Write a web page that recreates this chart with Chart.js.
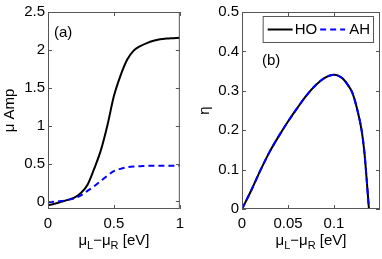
<!DOCTYPE html>
<html>
<head>
<meta charset="UTF-8">
<title>HO / AH</title>
<script src="https://cdn.jsdelivr.net/npm/chart.js@4"></script>
<style>
    body { margin: 0; background: #fff; }
    #wrap { position: relative; width: 382px; height: 259px; }
    canvas { position: absolute; top: 0; }
    #ampChart { left: 0; }
    #etaChart { left: 190px; }
</style>
</head>
<body>
<div id="wrap">
    <canvas id="ampChart" width="190" height="259"></canvas>
    <canvas id="etaChart" width="192" height="259"></canvas>
</div>
<script>
    // panel (a): mu Amp vs bias
    const ampX  = [0, 0.05, 0.1, 0.15, 0.2, 0.25, 0.3, 0.35, 0.4, 0.45, 0.5, 0.55, 0.6, 0.65, 0.7, 0.75, 0.8, 0.85, 0.9, 0.95, 1];
    const ampHO = [-0.05, -0.03, -0.005, 0.02, 0.05, 0.11, 0.22, 0.43, 0.67, 1.0, 1.39, 1.66, 1.87, 1.99, 2.05, 2.09, 2.12, 2.14, 2.15, 2.155, 2.16];
    const ampAH = [-0.01, -0.005, 0.005, 0.02, 0.04, 0.08, 0.14, 0.2, 0.27, 0.34, 0.4, 0.43, 0.45, 0.46, 0.465, 0.47, 0.47, 0.47, 0.47, 0.47, 0.47];
    const ampTicksX = [0, 0.5, 1];
    const ampTicksY = [0, 0.5, 1, 1.5, 2, 2.5];

    // panel (b): efficiency eta vs bias
    const etaX  = [0, 0.01, 0.02, 0.03, 0.04, 0.05, 0.06, 0.07, 0.08, 0.09, 0.1, 0.105, 0.11, 0.115, 0.12, 0.125, 0.13, 0.133, 0.135, 0.137, 0.138];
    const etaHO = [0, 0.047, 0.098, 0.145, 0.185, 0.222, 0.256, 0.288, 0.314, 0.333, 0.341, 0.338, 0.33, 0.315, 0.295, 0.255, 0.2, 0.145, 0.09, 0.03, 0];
    const etaAH = [0, 0.047, 0.098, 0.145, 0.185, 0.222, 0.256, 0.288, 0.314, 0.333, 0.341, 0.338, 0.33, 0.315, 0.295, 0.255, 0.2, 0.145, 0.09, 0.03, 0];
    const etaTicksX = [0, 0.05, 0.1];
    const etaTicksY = [0, 0.1, 0.2, 0.3, 0.4, 0.5];

    const seriesNames = ['HO', 'AH'];
    const FONT = '"Liberation Sans", Arial, sans-serif';
    const AXIS = '#555';

    function pts(xs, ys) {
        return xs.map((x, i) => ({ x: x, y: ys[i] }));
    }

    // box, inward ticks, axis titles, panel tag, legend
    const framePlugin = {
        id: 'frame',
        afterDraw(chart, args, o) {
            const ctx = chart.ctx;
            const a = chart.chartArea;
            const sx = chart.scales.x, sy = chart.scales.y;
            ctx.save();
            ctx.strokeStyle = AXIS;
            ctx.lineWidth = 1;
            ctx.strokeRect(a.left + 0.5, a.top + 0.5, a.right - a.left - 1, a.bottom - a.top - 1);
            ctx.beginPath();
            sx.ticks.forEach(t => {
                const p = Math.round(sx.getPixelForValue(t.value)) + 0.5;
                ctx.moveTo(p, a.bottom); ctx.lineTo(p, a.bottom - 4);
                ctx.moveTo(p, a.top); ctx.lineTo(p, a.top + 4);
            });
            sy.ticks.forEach(t => {
                const p = Math.round(sy.getPixelForValue(t.value)) + 0.5;
                ctx.moveTo(a.left, p); ctx.lineTo(a.left + 4, p);
                ctx.moveTo(a.right, p); ctx.lineTo(a.right - 4, p);
            });
            ctx.stroke();

            ctx.fillStyle = '#000';
            ctx.textBaseline = 'middle';

            // x title with subscripts
            const parts = [['μ', 0], ['L', 1], ['−μ', 0], ['R', 1], [' [eV]', 0]];
            let w = 0;
            parts.forEach(p => {
                ctx.font = (p[1] ? '11px ' : '15px ') + FONT;
                w += ctx.measureText(p[0]).width;
            });
            let x = (a.left + a.right) / 2 - w / 2;
            const ty = a.bottom + 32;
            ctx.textAlign = 'left';
            parts.forEach(p => {
                ctx.font = (p[1] ? '11px ' : '15px ') + FONT;
                ctx.fillText(p[0], x, ty + (p[1] ? 5 : 0));
                x += ctx.measureText(p[0]).width;
            });

            // y title, rotated
            ctx.save();
            ctx.translate(o.yTitleX, (a.top + a.bottom) / 2);
            ctx.rotate(-Math.PI / 2);
            ctx.textAlign = 'center';
            ctx.font = '15px ' + FONT;
            ctx.fillText(o.yTitle, 0, 0);
            ctx.restore();

            // panel tag
            ctx.font = '15px ' + FONT;
            ctx.textAlign = 'left';
            ctx.fillText(o.tag, a.left + o.tagDx, a.top + o.tagDy);

            if (o.legend) {
                const ds = chart.data.datasets;
                const lineLen = 25;
                const tw = seriesNames.map(n => ctx.measureText(n).width);
                const bw = 5 + lineLen + 2 + tw[0] + 3 + lineLen + 4 + tw[1] + 3;
                const bx = a.right - 7 - bw, by = a.top + 4, bh = 26;
                ctx.fillStyle = '#fff';
                ctx.fillRect(bx, by, bw, bh);
                ctx.strokeStyle = AXIS;
                ctx.lineWidth = 1;
                ctx.strokeRect(bx + 0.5, by + 0.5, bw, bh);
                const my = by + bh / 2 + 0.5;
                let lx = bx + 5;
                ds.forEach((d, i) => {
                    ctx.strokeStyle = d.borderColor;
                    ctx.lineWidth = 2;
                    ctx.setLineDash(d.borderDash || []);
                    ctx.beginPath();
                    ctx.moveTo(lx, my); ctx.lineTo(lx + lineLen, my);
                    ctx.stroke();
                    ctx.setLineDash([]);
                    lx += lineLen + (i ? 4 : 2);
                    ctx.fillStyle = '#000';
                    ctx.fillText(seriesNames[i], lx, my);
                    lx += tw[i] + 3;
                });
            }
            ctx.restore();
        }
    };

    function makeChart(id, xs, ho, ah, xr, yr, xt, yt, frame, yWidth, padRight) {
        const setTicks = list => scale => { scale.ticks = list.map(v => ({ value: v })); };
        return new Chart(document.getElementById(id), {
            type: 'line',
            data: {
                datasets: [
                    { label: seriesNames[0], data: pts(xs, ho), borderColor: '#000000', borderWidth: 2, order: 1 },
                    { label: seriesNames[1], data: pts(xs, ah), borderColor: '#0000ff', borderWidth: 2, borderDash: [6, 4], order: 0 }
                ]
            },
            options: {
                responsive: false,
                animation: false,
                events: [],
                layout: { padding: { top: 5, right: padRight, left: 0, bottom: 0 } },
                elements: {
                    point: { radius: 0 },
                    line: { cubicInterpolationMode: 'monotone', fill: false }
                },
                plugins: { legend: { display: false }, tooltip: { enabled: false }, frame: frame },
                scales: {
                    x: {
                        type: 'linear', min: xr[0], max: xr[1],
                        grid: { display: false, drawTicks: false }, border: { display: false },
                        afterBuildTicks: setTicks(xt),
                        afterFit: s => { s.height = 50; },
                        ticks: { color: '#000', font: { family: FONT, size: 15 }, padding: 6, maxRotation: 0,
                                 callback: v => String(v) }
                    },
                    y: {
                        min: yr[0], max: yr[1],
                        grid: { display: false, drawTicks: false }, border: { display: false },
                        afterBuildTicks: setTicks(yt),
                        afterFit: s => { s.width = yWidth; },
                        ticks: { color: '#000', font: { family: FONT, size: 15 }, padding: 3,
                                 callback: v => String(v) }
                    }
                }
            },
            plugins: [framePlugin]
        });
    }

    makeChart('ampChart', ampX, ampHO, ampAH, [0, 1], [-0.1, 2.5], ampTicksX, ampTicksY,
        { yTitle: 'μ Amp', yTitleX: 10, tag: '(a)', tagDx: 6, tagDy: 21, legend: false }, 48, 6);
    makeChart('etaChart', etaX, etaHO, etaAH, [0, 0.15], [0, 0.5], etaTicksX, etaTicksY,
        { yTitle: 'η', yTitleX: 15, tag: '(b)', tagDx: 20, tagDy: 49, legend: true }, 52, 2);
</script>
</body>
</html>
